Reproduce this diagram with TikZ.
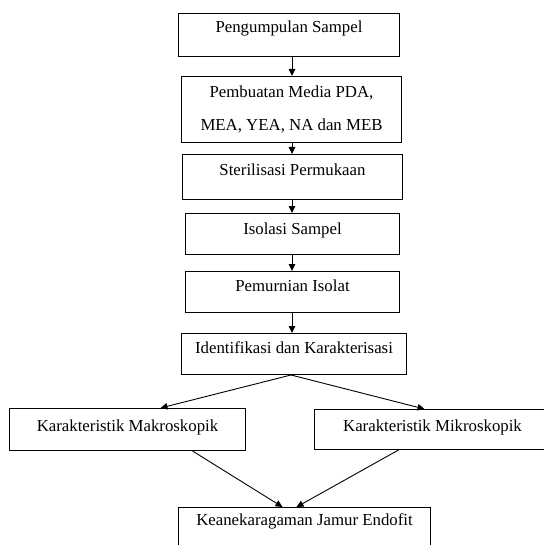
\documentclass[tikz,border=0pt]{standalone}
\usepackage{fontspec}
\setmainfont{Liberation Serif}
\usetikzlibrary{arrows.meta}
\tikzset{
  box/.style={draw, line width=1pt, inner xsep=0pt, inner ysep=0pt, anchor=north west,
    font=\fontsize{16.8}{33}\selectfont, align=center},
  arr/.style={line width=0.9pt, -{Triangle[length=7pt,width=6.5pt]}}
}
\begin{document}
\begin{tikzpicture}[x=1pt,y=-1pt]
\useasboundingbox (0,0) rectangle (543,545);
\node[box, minimum width=221, text height=19, text depth=24] (b1) at (178,13) {Pengumpulan Sampel};
\node[box, minimum width=220, minimum height=66] (b2) at (181,76) {Pembuatan Media PDA,\\MEA, YEA, NA dan MEB};
\node[box, minimum width=220, text height=21, text depth=24] (b3) at (182,154) {Sterilisasi Permukaan};
\node[box, minimum width=214, text height=21, text depth=20] (b4) at (185,213) {Isolasi Sampel};
\node[box, minimum width=214, text height=20, text depth=21] (b5) at (185,271) {Pemurnian Isolat};
\node[box, minimum width=225, text height=20, text depth=21] (b6) at (181,333) {Identifikasi dan Karakterisasi};
\node[box, minimum width=236, text height=23, text depth=19] (b7) at (9,408) {Karakteristik Makroskopik};
\node[box, minimum width=236, text height=22, text depth=18] (b8) at (314,409) {Karakteristik Mikroskopik};
\node[box, minimum width=252, text height=18, text depth=40] (b9) at (178,507) {Keanekaragaman Jamur Endofit};
\coordinate (ax) at (292,0);
\draw[arr] (b1.south -| ax) -- (b2.north -| ax);
\draw[arr] (b2.south -| ax) -- (b3.north -| ax);
\draw[arr] (b3.south -| ax) -- (b4.north -| ax);
\draw[arr] (b4.south -| ax) -- (b5.north -| ax);
\draw[arr] (b5.south -| ax) -- (b6.north -| ax);
\coordinate (apex) at ([xshift=-3]b6.south);
\draw[arr] (apex) -- ([xshift=33]b7.north);
\draw[arr] (apex) -- ([xshift=-8]b8.north);
\draw[arr] ([xshift=65]b7.south) -- ([xshift=-22]b9.north);
\draw[arr] ([xshift=-34]b8.south) -- ([xshift=-8]b9.north);
\end{tikzpicture}
\end{document}
